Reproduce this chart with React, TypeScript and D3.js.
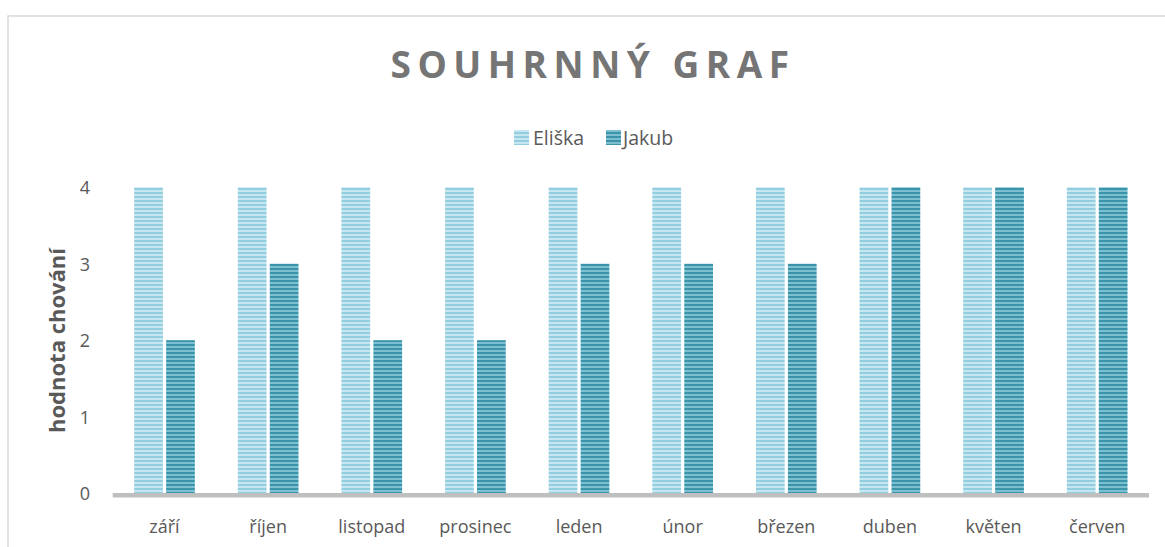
import React from "react";
import * as d3 from "d3";

const categories = ["září", "říjen", "listopad", "prosinec", "leden", "únor", "březen", "duben", "květen", "červen"];
const eliska = [4, 4, 4, 4, 4, 4, 4, 4, 4, 4];
const jakub = [2, 3, 2, 2, 3, 3, 3, 4, 4, 4];
const seriesNames = ["Eliška", "Jakub"];
const yTicks = [0, 1, 2, 3, 4];

const W = 1165;
const H = 547;
const plotLeft = 112.7;
const plotRight = 1149;
const plotTop = 187.3;
const plotBottom = 493;
const font = "'Open Sans', sans-serif";

export default function App() {
  const x = d3.scaleBand<string>().domain(categories).range([plotLeft, plotRight]).paddingInner(0).paddingOuter(0);
  const groupW = 60.7;
  const inner = d3.scaleBand<string>().domain(seriesNames).range([0, groupW]).paddingInner(0.1).paddingOuter(0);
  const y = d3.scaleLinear().domain([0, 4]).range([plotBottom, plotTop]);
  const groupOffset = (x.bandwidth() - groupW) / 2;
  const series = [
    { name: "Eliška", values: eliska, fill: "url(#patE)" },
    { name: "Jakub", values: jakub, fill: "url(#patJ)" },
  ];
  return (
    <svg width={W} height={H} style={{ position: "absolute", left: 0, top: 0, background: "#fff" }}>
      <defs>
        <pattern id="patE" width="8" height="4" patternUnits="userSpaceOnUse">
          <rect width="8" height="4" fill="#c6e6f0" />
          <rect width="8" height="2" fill="#93cde0" />
        </pattern>
        <pattern id="patJ" width="8" height="4" patternUnits="userSpaceOnUse">
          <rect width="8" height="4" fill="#7dbfd0" />
          <rect width="8" height="2" fill="#3a95ab" />
        </pattern>
      </defs>
      <rect x={8} y={16} width={W + 10} height={H + 10} fill="#fff" stroke="#d9d9d9" strokeWidth={1.5} />
      <text x={593} y={77.5} textAnchor="middle" fontFamily={font} fontWeight="bold" fontSize={37} letterSpacing={6.5} fill="#757575">
        SOUHRNNÝ GRAF
      </text>
      {/* legend */}
      <g fontFamily={font} fontSize={19.5} fill="#595959">
        <rect x={514} y={130} width={15} height={15} fill="url(#patE)" />
        <text x={533} y={145}>{seriesNames[0]}</text>
        <rect x={606} y={130} width={15} height={15} fill="url(#patJ)" />
        <text x={623} y={145}>{seriesNames[1]}</text>
      </g>
      {/* y ticks */}
      <g fontFamily={font} fontSize={18} fill="#595959">
        {yTicks.map((t) => (
          <text key={t} x={90} y={y(t) + 7} textAnchor="end">{t}</text>
        ))}
      </g>
      <text transform={`translate(65, 340.5) rotate(-90)`} textAnchor="middle" fontFamily={font} fontWeight="bold" fontSize={22} fill="#595959">
        hodnota chování
      </text>
      {/* bars */}
      {series.map((s) => (
        <g key={s.name}>
          {categories.map((c, i) => (
            <rect
              key={c}
              x={(x(c) as number) + groupOffset + (inner(s.name) as number)}
              y={y(s.values[i])}
              width={inner.bandwidth()}
              height={plotBottom - y(s.values[i])}
              fill={s.fill}
            />
          ))}
        </g>
      ))}
      {/* x axis */}
      <rect x={plotLeft} y={plotBottom} width={plotRight - plotLeft} height={4.5} fill="#bfbfbf" />
      <g fontFamily={font} fontSize={18} fill="#595959">
        {categories.map((c) => (
          <text key={c} x={(x(c) as number) + x.bandwidth() / 2} y={533} textAnchor="middle">{c}</text>
        ))}
      </g>
    </svg>
  );
}
